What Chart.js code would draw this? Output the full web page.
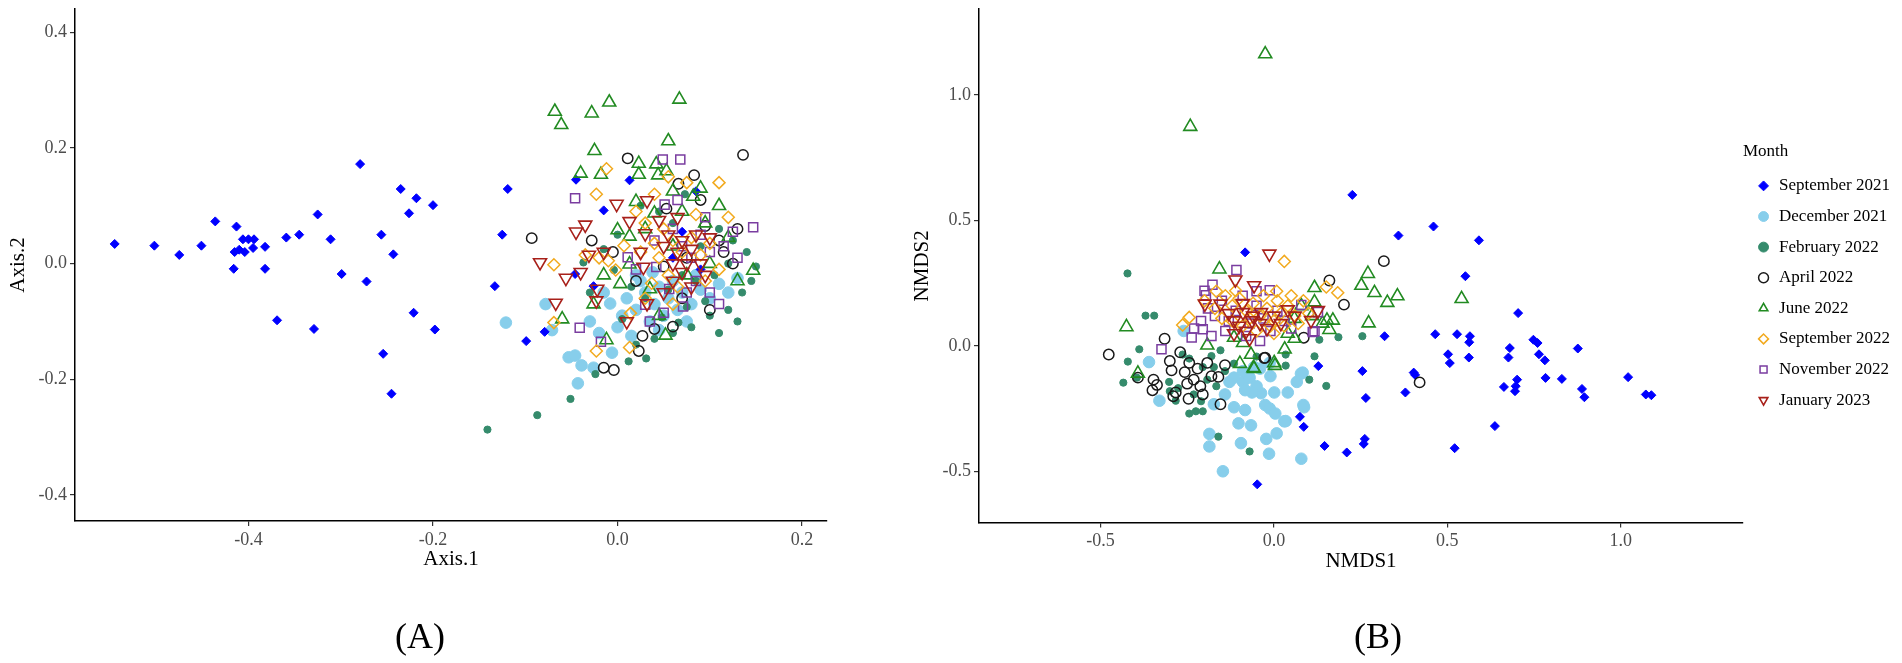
<!DOCTYPE html>
<html>
<head>
<meta charset="utf-8">
<script src="https://cdn.jsdelivr.net/npm/chart.js@4.4.1/dist/chart.umd.min.js"></script>
<style>
  html, body { margin: 0; padding: 0; background: #fff; width: 1902px; height: 663px; overflow: hidden; }
  canvas { position: absolute; top: 0; }
  #cA { left: 0; }
  #cB { left: 904px; }
  .panel-label { position: absolute; font-family: "Liberation Serif", "Times New Roman", serif; font-size: 36px; color: #000; transform: translate(-50%, -50%); white-space: nowrap; }
</style>
</head>
<body>
<canvas id="cA" width="880" height="663"></canvas>
<canvas id="cB" width="998" height="663"></canvas>
<div class="panel-label" style="left:420px; top:636px;">(A)</div>
<div class="panel-label" style="left:1378px; top:636px;">(B)</div>
<script>
// ---------- labels ----------
const monthLabels = ["September 2021","December 2021","February 2022","April 2022","June 2022","September 2022","November 2022","January 2023"];
const legendTitle = "Month";
const axisTitlesA = ["Axis.1", "Axis.2"];
const axisTitlesB = ["NMDS1", "NMDS2"];

// ---------- tick values ----------
const xTicksA = [-0.4, -0.2, 0.0, 0.2];
const yTicksA = [-0.4, -0.2, 0.0, 0.2, 0.4];
const xTicksB = [-0.5, 0.0, 0.5, 1.0];
const yTicksB = [-0.5, 0.0, 0.5, 1.0];
const xRangeA = [-0.588, 0.227];
const yRangeA = [-0.445, 0.44];
const xRangeB = [-0.85, 1.352];
const yRangeB = [-0.703, 1.342];

// ---------- Panel A (PCoA) : [Axis.1, Axis.2] ----------
const sep21A = [[-0.545,0.034],[-0.502,0.031],[-0.475,0.015],[-0.451,0.031],[-0.436,0.073],[-0.413,0.064],[-0.406,0.042],[-0.400,0.042],[-0.394,0.042],[-0.415,0.020],[-0.410,0.024],[-0.404,0.020],[-0.395,0.027],[-0.382,0.029],[-0.416,-0.009],[-0.382,-0.009],[-0.369,-0.098],[-0.359,0.045],[-0.345,0.050],[-0.325,0.085],[-0.311,0.042],[-0.329,-0.113],[-0.299,-0.018],[-0.279,0.172],[-0.272,-0.031],[-0.256,0.050],[-0.243,0.016],[-0.235,0.129],[-0.226,0.087],[-0.218,0.113],[-0.200,0.101],[-0.254,-0.156],[-0.245,-0.225],[-0.221,-0.085],[-0.198,-0.114],[-0.125,0.050],[-0.119,0.129],[-0.133,-0.039],[-0.099,-0.134],[-0.079,-0.118],[-0.045,0.145],[0.013,0.144],[-0.015,0.092],[-0.046,-0.018],[-0.026,-0.039],[0.070,0.055],[0.090,-0.010],[0.060,0.010],[0.085,0.125]];
const dec21A = [[-0.121,-0.102],[-0.078,-0.070],[-0.071,-0.115],[-0.053,-0.162],[-0.046,-0.159],[-0.039,-0.176],[-0.043,-0.207],[-0.026,-0.180],[-0.006,-0.154],[-0.008,-0.069],[0.005,-0.090],[0.010,-0.060],[0.020,-0.080],[0.025,-0.030],[0.030,-0.050],[0.035,-0.100],[0.040,-0.070],[0.045,-0.040],[0.050,-0.090],[0.055,-0.060],[0.060,-0.030],[0.065,-0.080],[0.070,-0.050],[0.075,-0.100],[0.080,-0.070],[0.090,-0.045],[0.100,-0.060],[0.110,-0.035],[0.120,-0.050],[-0.020,-0.120],[0.000,-0.110],[0.015,-0.125],[-0.030,-0.100],[0.020,-0.020],[0.038,-0.015],[0.130,-0.025],[0.085,-0.020],[-0.015,-0.050],[0.045,-0.115]];
const feb22A = [[-0.141,-0.287],[-0.087,-0.262],[-0.051,-0.234],[-0.024,-0.191],[0.012,-0.169],[0.031,-0.164],[0.005,-0.096],[-0.037,0.002],[-0.004,-0.011],[0.048,-0.093],[0.066,-0.102],[0.073,0.120],[0.020,-0.140],[0.040,-0.130],[0.060,-0.120],[0.080,-0.110],[0.100,-0.090],[0.120,-0.080],[0.135,-0.050],[0.145,-0.030],[0.150,-0.005],[0.140,0.020],[0.125,0.040],[0.110,0.060],[0.095,-0.065],[0.075,-0.075],[0.055,-0.045],[0.030,-0.060],[0.085,-0.030],[0.105,-0.020],[0.120,0.000],[0.060,0.070],[0.045,0.090],[0.025,0.100],[0.000,0.050],[-0.015,0.025],[0.090,0.030],[0.070,-0.020],[0.130,-0.100],[0.110,-0.120],[-0.030,-0.050],[0.015,-0.040]];
const apr22A = [[-0.093,0.044],[-0.028,0.040],[-0.005,0.020],[0.011,0.182],[0.066,0.138],[0.083,0.153],[-0.004,-0.184],[0.023,-0.151],[0.027,-0.125],[0.040,-0.113],[0.060,-0.109],[0.053,0.095],[0.090,0.110],[0.136,0.188],[0.115,0.020],[0.125,0.000],[0.100,-0.080],[0.110,0.040],[0.095,0.065],[0.070,-0.060],[0.050,-0.005],[0.020,-0.030],[0.075,0.010],[0.130,0.060],[-0.015,-0.180]];
const jun22A = [[-0.068,0.263],[-0.061,0.240],[-0.028,0.260],[-0.009,0.279],[0.067,0.284],[0.055,0.212],[-0.025,0.195],[-0.040,0.156],[-0.018,0.154],[0.023,0.173],[0.023,0.154],[0.042,0.172],[0.044,0.153],[0.053,0.160],[0.082,0.116],[0.020,0.107],[0.040,0.087],[0.000,0.058],[0.013,0.047],[0.013,-0.001],[-0.015,-0.020],[0.003,-0.035],[-0.026,-0.070],[-0.060,-0.096],[-0.012,-0.132],[0.052,-0.124],[0.035,-0.044],[0.070,0.090],[0.095,0.070],[0.110,0.100],[0.120,0.045],[0.147,-0.012],[0.130,-0.030],[0.060,0.030],[0.075,-0.020],[0.100,0.000],[0.045,-0.090],[0.030,0.060],[0.090,0.130],[0.060,0.125]];
const sep22A = [[-0.023,0.120],[-0.012,0.164],[-0.069,-0.002],[-0.069,-0.102],[-0.023,-0.151],[0.014,-0.086],[-0.002,-0.011],[0.040,0.120],[0.007,0.031],[0.037,-0.034],[0.013,-0.145],[-0.035,0.015],[-0.020,0.010],[-0.010,0.005],[0.020,0.090],[0.030,0.070],[0.050,0.060],[0.060,0.040],[0.070,0.020],[0.080,0.045],[0.090,0.015],[0.100,0.035],[0.055,-0.020],[0.065,-0.040],[0.045,0.010],[0.025,0.020],[0.085,0.085],[0.110,0.140],[0.075,0.140],[0.055,0.150],[0.120,0.080],[0.095,-0.030],[0.030,-0.060],[0.060,-0.070],[0.110,-0.010],[0.040,0.035]];
const nov22A = [[-0.046,0.113],[-0.041,-0.111],[-0.018,-0.135],[0.049,0.180],[0.051,0.102],[0.011,0.011],[0.030,-0.071],[0.042,-0.006],[0.056,-0.044],[0.071,-0.074],[0.147,0.063],[0.068,0.180],[0.070,0.030],[0.080,0.010],[0.090,0.050],[0.100,0.020],[0.060,0.060],[0.085,-0.030],[0.100,-0.050],[0.115,0.030],[0.125,0.055],[0.040,0.040],[0.020,-0.010],[0.075,-0.050],[0.095,0.080],[0.065,0.110],[0.035,-0.100],[0.050,-0.085],[0.110,-0.070],[0.130,0.010]];
const jan23A = [[-0.084,0.002],[-0.056,-0.025],[-0.067,-0.068],[-0.045,0.055],[-0.035,0.067],[-0.040,-0.015],[-0.022,-0.044],[-0.023,-0.064],[-0.001,0.103],[0.013,0.073],[0.032,0.109],[0.030,0.052],[0.028,-0.006],[-0.031,0.015],[0.032,-0.069],[0.050,0.030],[0.055,0.050],[0.060,0.000],[0.065,0.020],[0.070,0.040],[0.075,0.000],[0.080,0.025],[0.085,0.050],[0.090,0.000],[0.060,-0.030],[0.070,-0.015],[0.080,-0.040],[0.050,-0.050],[0.045,0.075],[0.065,0.080],[0.100,0.045],[0.095,-0.020],[0.025,0.020],[0.010,-0.100],[-0.015,0.020]];

// ---------- Panel B (NMDS) : [NMDS1, NMDS2] ----------
const sep21B = [[-0.083,0.373],[0.226,0.602],[0.359,0.440],[0.460,0.476],[0.591,0.421],[0.552,0.278],[0.704,0.131],[0.319,0.039],[0.465,0.047],[0.528,0.047],[0.565,0.039],[0.563,0.015],[0.502,-0.033],[0.507,-0.068],[0.562,-0.046],[0.680,-0.008],[0.676,-0.046],[0.748,0.025],[0.760,0.012],[0.764,-0.033],[0.781,-0.057],[0.876,-0.010],[0.783,-0.127],[0.830,-0.131],[0.701,-0.134],[0.697,-0.160],[0.695,-0.180],[0.663,-0.163],[0.888,-0.171],[0.895,-0.204],[1.021,-0.124],[1.072,-0.193],[1.088,-0.196],[0.255,-0.100],[0.403,-0.106],[0.407,-0.115],[0.379,-0.185],[0.265,-0.207],[0.128,-0.080],[0.075,-0.282],[0.086,-0.322],[0.637,-0.319],[0.146,-0.398],[0.210,-0.424],[0.262,-0.370],[0.259,-0.390],[-0.048,-0.551],[0.521,-0.407]];
const dec21B = [[-0.360,-0.064],[-0.330,-0.218],[-0.186,-0.350],[-0.186,-0.400],[-0.147,-0.499],[-0.095,-0.387],[-0.102,-0.308],[-0.066,-0.316],[-0.014,-0.429],[-0.022,-0.370],[0.008,-0.348],[0.034,-0.299],[0.079,-0.449],[0.085,-0.235],[0.083,-0.106],[0.040,-0.185],[0.001,-0.185],[-0.037,-0.188],[-0.083,-0.255],[-0.115,-0.244],[-0.141,-0.193],[-0.128,-0.143],[-0.089,-0.143],[-0.070,-0.126],[-0.050,-0.160],[-0.063,-0.185],[-0.025,-0.235],[-0.012,-0.249],[-0.089,-0.100],[-0.057,-0.084],[-0.012,-0.067],[-0.173,-0.232],[-0.115,-0.126],[-0.083,-0.176],[0.066,-0.143],[0.004,-0.269],[-0.260,0.060],[0.030,-0.300],[0.087,-0.244],[0.078,-0.110],[-0.040,-0.090],[-0.010,-0.120]];
const feb22B = [[-0.422,0.289],[-0.370,0.121],[-0.345,0.121],[-0.388,-0.013],[-0.421,-0.062],[-0.434,-0.146],[-0.395,-0.126],[-0.302,-0.143],[-0.276,-0.168],[-0.244,-0.269],[-0.225,-0.260],[-0.205,-0.260],[-0.160,-0.361],[-0.070,-0.420],[-0.166,-0.160],[-0.141,-0.100],[-0.115,-0.070],[-0.050,-0.042],[-0.205,-0.084],[-0.244,-0.050],[-0.263,-0.034],[-0.192,-0.134],[-0.231,-0.193],[-0.283,-0.218],[-0.173,-0.084],[-0.154,-0.017],[0.131,0.025],[0.186,0.035],[0.255,0.039],[0.117,-0.041],[0.102,-0.134],[0.151,-0.159],[0.034,-0.078],[0.034,-0.034],[-0.210,-0.220],[-0.300,-0.180],[-0.180,-0.040]];
const apr22B = [[-0.476,-0.034],[-0.392,-0.126],[-0.347,-0.134],[-0.350,-0.176],[-0.337,-0.155],[-0.315,0.029],[-0.295,-0.097],[-0.270,-0.025],[-0.257,-0.104],[-0.244,-0.067],[-0.231,-0.134],[-0.205,-0.193],[-0.212,-0.160],[-0.246,-0.210],[-0.283,-0.185],[-0.192,-0.067],[-0.141,-0.076],[-0.154,-0.232],[-0.160,-0.123],[-0.025,-0.047],[0.160,0.261],[0.317,0.338],[0.202,0.165],[0.086,0.033],[0.420,-0.145],[-0.028,-0.048],[-0.300,-0.060],[-0.220,-0.090],[-0.180,-0.120],[-0.250,-0.150],[-0.290,-0.200]];
const jun22B = [[-0.241,0.874],[-0.025,1.163],[-0.425,0.076],[-0.392,-0.109],[-0.157,0.306],[-0.192,0.003],[-0.115,0.034],[-0.089,0.013],[-0.066,-0.034],[-0.098,-0.070],[-0.059,-0.087],[0.001,-0.067],[0.031,-0.013],[0.040,0.050],[0.059,0.109],[0.079,0.160],[0.271,0.288],[0.252,0.241],[0.290,0.212],[0.327,0.173],[0.356,0.199],[0.541,0.188],[0.273,0.091],[0.117,0.232],[0.153,0.102],[0.170,0.102],[0.160,0.065],[0.003,-0.078],[-0.057,-0.090],[0.117,0.175],[0.110,0.120],[0.140,0.090],[0.060,0.030]];
const sep22B = [[0.030,0.337],[0.151,0.235],[0.184,0.212],[-0.244,0.114],[-0.263,0.084],[-0.166,0.218],[0.008,0.218],[0.085,0.180],[-0.200,0.180],[-0.170,0.150],[-0.140,0.200],[-0.120,0.160],[-0.100,0.190],[-0.080,0.140],[-0.060,0.170],[-0.040,0.120],[-0.020,0.150],[0.000,0.100],[0.020,0.130],[0.040,0.160],[0.060,0.120],[-0.090,0.080],[-0.050,0.060],[0.000,0.050],[0.030,0.080],[-0.120,0.100],[-0.070,0.110],[0.050,0.200],[-0.030,0.200],[0.010,0.180],[-0.110,0.220],[0.070,0.090],[-0.150,0.110],[-0.010,0.080],[0.100,0.130]];
const nov22B = [[-0.108,0.303],[-0.177,0.244],[-0.196,0.202],[-0.324,-0.013],[-0.237,0.034],[-0.205,0.067],[-0.050,0.218],[-0.012,0.222],[0.079,0.163],[0.117,0.059],[0.112,0.056],[0.127,0.135],[-0.190,0.150],[-0.170,0.120],[-0.150,0.180],[-0.130,0.100],[-0.110,0.140],[-0.090,0.200],[-0.070,0.090],[-0.050,0.160],[-0.030,0.110],[-0.010,0.060],[0.010,0.140],[-0.210,0.100],[-0.230,0.070],[-0.180,0.040],[-0.140,0.060],[-0.080,0.040],[0.030,0.100],[-0.200,0.220],[-0.040,0.020],[0.050,0.070]];
const jan23B = [[-0.013,0.367],[-0.111,0.264],[-0.057,0.241],[-0.199,0.168],[-0.154,0.168],[-0.115,0.101],[-0.089,0.134],[-0.063,0.101],[-0.037,0.134],[-0.115,0.050],[0.040,0.145],[0.107,0.102],[0.127,0.142],[-0.100,0.080],[-0.080,0.060],[-0.060,0.120],[-0.040,0.090],[-0.020,0.070],[0.000,0.120],[0.020,0.090],[-0.130,0.130],[-0.090,0.170],[-0.070,0.030],[0.060,0.120]];

// ---------- styling per month (not data) ----------
const styles = [
  { style: 'rectRot',  fill: '#0000FF', stroke: '#0000FF', r: 4.5, bw: 1,   rot: 0,   order: 6 },
  { style: 'circle',   fill: '#87CEEB', stroke: '#87CEEB', r: 5.8, bw: 1,   rot: 0,   order: 8 },
  { style: 'circle',   fill: '#358B6C', stroke: '#358B6C', r: 3.6, bw: 1,   rot: 0,   order: 7 },
  { style: 'circle',   fill: 'rgba(0,0,0,0)', stroke: '#1a1a1a', r: 5.2, bw: 1.5, rot: 0, order: 5 },
  { style: 'triangle', fill: 'rgba(0,0,0,0)', stroke: '#228B22', r: 7.5, bw: 1.6, rot: 0, order: 4 },
  { style: 'rectRot',  fill: 'rgba(0,0,0,0)', stroke: '#F2AA1F', r: 6.0, bw: 1.5, rot: 0, order: 2 },
  { style: 'rect',     fill: 'rgba(0,0,0,0)', stroke: '#7A3DA0', r: 6.4, bw: 1.5, rot: 0, order: 3 },
  { style: 'triangle', fill: 'rgba(0,0,0,0)', stroke: '#A8201A', r: 7.5, bw: 1.6, rot: 180, order: 1 }
];

const toXY = arr => arr.map(p => ({ x: p[0], y: p[1] }));
function makeDatasets(seriesList) {
  return seriesList.map((s, i) => ({
    label: monthLabels[i],
    data: toXY(s),
    pointStyle: styles[i].style,
    pointRadius: styles[i].r,
    pointHoverRadius: styles[i].r,
    pointRotation: styles[i].rot,
    backgroundColor: styles[i].fill,
    borderColor: styles[i].stroke,
    borderWidth: styles[i].bw,
    pointBorderWidth: styles[i].bw,
    order: styles[i].order,
    showLine: false
  }));
}

const serif = "'Liberation Serif', 'Times New Roman', serif";
const fmt = v => Number(v).toFixed(1);

function scaleCfg(axis, range, ticksArr, title, fixedSize) {
  return {
    type: 'linear',
    position: axis === 'x' ? 'bottom' : 'left',
    min: range[0], max: range[1],
    afterBuildTicks: sc => { sc.ticks = ticksArr.map(v => ({ value: v })); },
    afterFit: sc => {
      if (axis === 'x') sc.height = fixedSize; else sc.width = fixedSize;
      sc.paddingTop = 0; sc.paddingBottom = 0; sc.paddingLeft = 0; sc.paddingRight = 0;
    },
    ticks: { callback: fmt, color: '#4D4D4D', font: { family: serif, size: 18 }, padding: 3, autoSkip: false, maxRotation: 0 },
    grid: { display: true, drawOnChartArea: false, drawTicks: true, tickLength: 5, color: '#333', lineWidth: 1.2 },
    border: { display: true, color: '#000', width: 1.5 },
    title: { display: true, text: title, color: '#000', font: { family: serif, size: 21, lineHeight: 1.2 },
             padding: axis === 'x' ? { top: 0, bottom: 0 } : { top: 6, bottom: 0 } }
  };
}

Chart.defaults.animation = false;

new Chart(document.getElementById('cA'), {
  type: 'scatter',
  data: { datasets: makeDatasets([sep21A, dec21A, feb22A, apr22A, jun22A, sep22A, nov22A, jan23A]) },
  options: {
    responsive: false, devicePixelRatio: 1,
    layout: { padding: { left: 0, top: 6, right: 53, bottom: 91.4 } },
    plugins: { legend: { display: false }, tooltip: { enabled: false } },
    scales: {
      x: scaleCfg('x', xRangeA, xTicksA, axisTitlesA[0], 50.6),
      y: scaleCfg('y', yRangeA, yTicksA, axisTitlesA[1], 75)
    }
  }
});

new Chart(document.getElementById('cB'), {
  type: 'scatter',
  data: { datasets: makeDatasets([sep21B, dec21B, feb22B, apr22B, jun22B, sep22B, nov22B, jan23B]) },
  options: {
    responsive: false, devicePixelRatio: 1,
    layout: { padding: { left: 0, top: 8, right: 2, bottom: 89.4 } },
    plugins: {
      tooltip: { enabled: false },
      legend: {
        display: true, position: 'right', align: 'center', fullSize: false,
        title: { display: true, text: legendTitle, color: '#000', position: 'start',
                 font: { family: serif, size: 17, lineHeight: 1.2 }, padding: { top: 34, bottom: 0 } },
        labels: {
          usePointStyle: true, boxWidth: 14, boxHeight: 7, padding: 13.6,
          color: '#000', font: { family: serif, size: 17 },
          sort: (a, b) => a.datasetIndex - b.datasetIndex
        }
      }
    },
    scales: {
      x: scaleCfg('x', xRangeB, xTicksB, axisTitlesB[0], 51.1),
      y: scaleCfg('y', yRangeB, yTicksB, axisTitlesB[1], 75)
    }
  }
});
</script>
</body>
</html>
